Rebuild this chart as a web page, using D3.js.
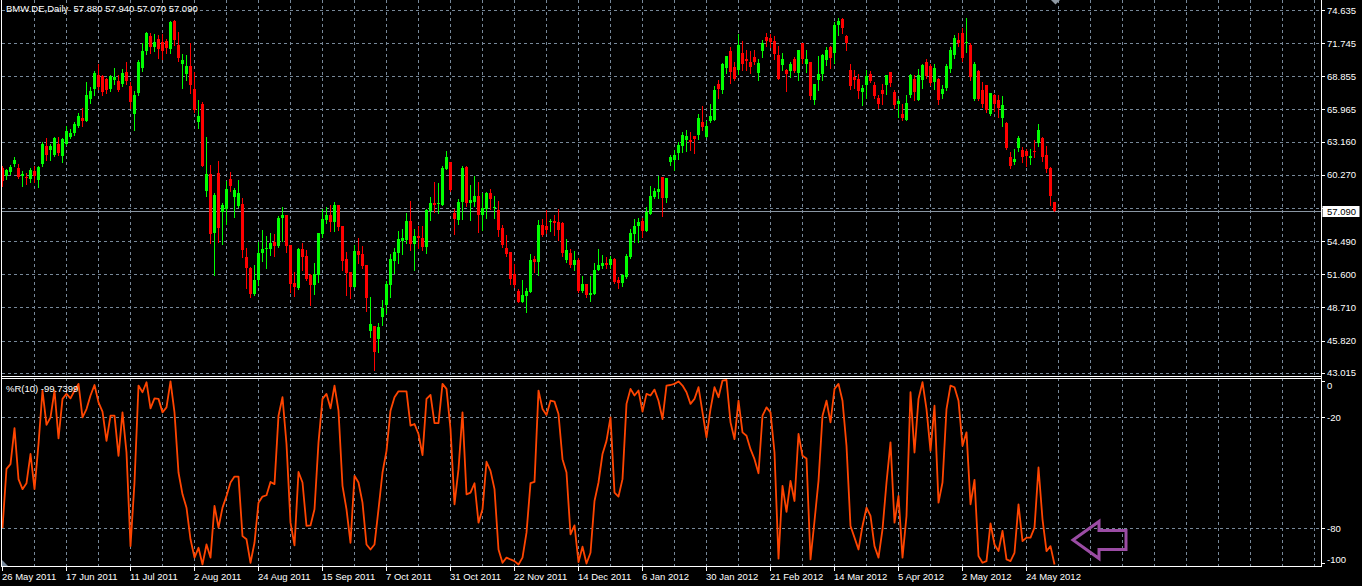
<!DOCTYPE html>
<html><head><meta charset="utf-8">
<script src="https://cdn.jsdelivr.net/npm/d3@7"></script>
<style>html,body{margin:0;padding:0;background:#000;overflow:hidden}</style>
</head><body>
<svg id="c" width="1362" height="586"></svg>
<script>
const symbolTitle = "BMW.DE,Daily";
const indicatorName = "%R(10)";
const dateLabels = ["26 May 2011","17 Jun 2011","11 Jul 2011","2 Aug 2011","24 Aug 2011","15 Sep 2011","7 Oct 2011","31 Oct 2011","22 Nov 2011","14 Dec 2011","6 Jan 2012","30 Jan 2012","21 Feb 2012","14 Mar 2012","5 Apr 2012","2 May 2012","24 May 2012"];
const dateLabelBars = [0,16,32,48,64,80,96,112,128,144,160,176,192,208,224,240,256];
const priceTicks = [74.635,71.745,68.855,65.965,63.160,60.270,57.380,54.490,51.600,48.710,45.820,43.015];
const wprLevels = [-20,-80];
const wprTickLabels = [0,-20,-80,-100];

const openP = [60.9,60.2,60.5,61.2,60.85,60.2,60.1,59.9,60.6,59.8,61.2,62.8,62.45,62.0,62.95,61.9,62.95,63.6,63.9,64.55,65.2,65.0,66.9,67.75,69.0,68.85,68.6,67.75,68.5,68.45,68.2,69.2,68.05,65.6,67.4,69.55,71.05,72.35,71.4,72.15,71.85,71.9,71.2,73.7,
71.57,69.9,69.03,69.73,67.78,64.83,66.46,58.87,60.33,55.23,60.42,57.0,57.27,59.9,58.35,57.56,57.7,53.09,52.16,49.88,51.14,53.41,53.8,53.76,54.44,54.06,56.51,56.8,54.15,50.85,50.41,53.76,53.18,51.52,50.64,51.52,55.14,56.3,56.8,56.19,57.65,55.81,52.89,51.81,
50.47,53.62,53.38,52.39,46.61,47.05,45.97,47.84,48.89,50.64,52.74,53.47,54.5,54.55,56.25,54.26,54.93,54.73,53.97,57.12,57.85,57.7,57.65,60.77,61.35,56.98,56.3,57.94,60.92,57.85,57.94,58.43,56.77,57.27,58.64,57.35,57.18,55.66,53.85,53.56,51.64,50.17,49.18,49.68,
50.06,52.89,52.69,55.9,55.81,56.19,56.25,56.16,56.1,52.8,53.47,52.39,52.8,50.12,50.76,49.76,49.88,52.01,52.3,52.6,52.39,52.89,51.14,50.85,51.34,53.09,55.14,55.81,56.25,55.37,56.89,58.29,58.81,60.04,58.23,61.35,61.56,62.15,62.81,63.33,63.31,63.69,63.77,64.86,
63.6,64.94,65.06,68.15,67.69,69.61,71.07,69.67,69.38,70.9,70.4,70.11,70.55,69.15,71.07,72.3,72.16,71.95,70.7,69.82,69.44,69.32,70.32,69.15,71.72,69.91,70.11,66.81,68.5,69.03,70.26,71.42,70.9,73.32,73.82,72.36,69.44,68.8,68.65,67.48,68.07,69.03,68.07,66.98,
67.69,68.07,69.24,67.48,66.46,65.53,65.06,67.19,68.65,66.81,68.5,70.11,69.73,68.36,68.65,67.28,67.86,69.53,70.7,72.01,72.59,71.78,71.57,66.9,69.32,67.69,68.07,65.59,67.19,66.81,65.24,64.77,61.79,61.35,62.61,62.43,62.38,61.73,62.32,63.02,63.48,62.02,60.86,57.88];
const highP = [61.0,60.8,61.15,61.8,61.2,60.6,60.4,60.9,61.05,61.0,63.1,63.45,62.95,63.6,63.6,63.45,64.55,64.25,64.9,65.65,66.1,68.4,67.95,69.3,69.95,69.0,68.7,69.0,69.55,69.0,69.5,70.1,68.35,67.6,70.3,71.75,72.7,72.6,72.5,72.45,72.55,72.1,73.7,73.8,
72.74,70.78,70.7,71.72,69.24,66.81,66.61,63.6,61.15,58.64,61.44,57.85,59.75,60.48,59.1,59.8,58.23,53.85,52.22,52.39,54.44,55.43,54.93,55.23,55.14,56.69,57.47,56.8,54.15,51.8,53.85,54.35,53.68,51.58,52.6,55.23,57.27,57.42,57.65,57.94,57.65,55.81,53.56,51.81,
54.15,54.73,54.06,52.39,49.59,47.05,47.34,49.38,50.99,53.38,53.85,55.37,55.52,56.98,57.99,55.52,55.81,55.81,57.27,58.35,59.6,59.54,61.0,62.38,61.41,57.27,58.14,61.06,61.06,59.4,60.19,59.6,58.64,58.81,59.02,58.43,57.99,55.9,55.02,53.56,52.45,50.3,51.14,50.41,
53.32,53.18,56.33,56.39,57.18,56.39,56.77,57.27,56.19,54.64,53.76,53.62,52.98,51.43,50.76,51.43,52.6,53.76,53.27,53.09,53.18,52.98,51.34,51.58,53.38,55.52,56.39,56.54,56.48,57.47,59.31,59.16,60.19,60.04,59.95,62.02,62.43,63.1,63.98,64.13,63.98,63.69,65.59,66.23,
64.94,66.4,67.98,68.5,70.03,70.61,71.37,70.11,72.53,71.95,71.13,71.07,71.19,70.4,72.01,72.65,72.53,72.36,71.48,70.9,69.53,70.11,70.55,71.19,71.78,71.19,70.11,68.21,70.61,70.84,71.37,71.48,73.61,73.9,73.9,72.45,69.96,69.38,69.09,68.07,69.38,69.32,68.36,67.19,
68.15,68.94,69.24,67.69,66.9,66.46,67.19,69.03,68.94,69.53,69.91,70.32,69.96,69.91,68.74,68.07,69.96,71.37,72.45,72.59,73.03,73.9,71.78,70.11,69.38,68.36,68.07,67.4,67.28,67.19,67.1,64.86,62.23,62.52,63.69,62.72,62.52,62.52,63.31,64.71,63.6,62.81,60.98,57.94];
const lowP = [59.3,59.9,60.35,61.05,59.95,59.25,59.5,59.6,59.6,59.2,61.05,61.6,61.6,61.9,62.0,61.35,62.85,63.45,63.75,64.4,64.55,64.95,66.5,67.25,67.75,67.2,67.4,67.55,68.2,67.6,68.05,68.2,66.05,64.15,67.25,69.3,70.8,70.9,71.1,70.45,70.35,70.85,70.85,71.6,
70.2,67.86,68.56,67.4,65.73,64.36,61.0,58.43,54.35,51.52,54.44,54.2,55.95,58.87,56.6,57.5,53.09,50.41,49.59,49.82,50.7,52.74,52.1,53.27,53.18,53.97,54.5,53.56,50.06,49.68,50.35,52.0,51.14,48.95,49.88,50.93,54.85,56.1,55.37,55.37,55.43,51.93,49.76,49.53,
50.47,52.6,52.16,48.42,46.17,43.25,44.86,47.14,48.22,49.59,51.72,52.6,53.38,54.35,53.68,51.93,53.91,53.68,53.47,56.3,57.06,56.98,57.65,60.77,58.87,55.14,56.01,56.39,57.56,56.3,57.56,55.3,55.43,56.54,57.27,56.48,54.93,53.97,53.18,50.76,50.47,49.18,49.18,48.31,
50.06,51.81,51.52,54.93,55.23,55.37,54.99,54.55,53.18,52.69,52.22,51.93,50.06,50.06,49.59,49.3,49.88,51.93,52.16,52.16,52.16,50.85,50.41,50.55,51.23,52.98,54.44,54.44,54.85,55.37,56.89,58.23,58.23,56.68,57.94,61.15,60.68,61.65,62.23,62.38,62.43,62.15,63.4,64.13,
63.6,64.86,65.06,66.98,67.4,69.15,68.27,68.56,69.03,69.44,69.44,69.15,69.91,68.56,70.55,71.48,71.42,70.32,68.65,69.44,67.57,68.8,69.24,68.56,70.02,69.24,66.9,66.46,67.69,68.56,69.82,69.61,70.02,72.45,72.59,71.19,67.78,67.86,66.98,66.31,66.98,68.36,66.98,66.11,
66.4,67.28,67.98,66.11,65.3,65.06,65.06,67.04,66.81,66.81,67.86,68.74,68.07,67.78,66.4,66.98,67.69,69.24,70.49,71.48,70.2,70.99,68.56,66.75,66.75,66.17,65.73,65.44,65.82,65.35,64.48,62.52,60.86,61.2,62.32,61.35,61.06,61.2,61.85,62.81,61.5,60.48,57.65,57.07];
const closeP = [59.75,60.7,60.95,61.6,60.1,60.3,59.95,60.65,60.2,60.95,62.95,62.0,62.75,63.45,62.15,63.4,64.1,63.9,64.7,65.4,65.0,67.2,67.6,69.15,67.9,67.5,67.65,68.85,68.8,67.65,69.1,68.45,66.6,67.2,70.1,71.05,72.65,71.4,71.85,71.2,71.05,71.3,73.6,72.0,
70.49,70.26,69.73,68.07,65.88,65.36,61.06,60.33,55.14,58.52,55.6,57.65,59.02,59.3,58.96,58.67,53.68,52.1,49.88,51.14,53.41,53.76,53.9,54.35,54.06,56.54,56.8,54.06,50.76,50.47,53.76,53.09,51.2,50.64,51.64,55.23,56.39,56.8,56.19,57.65,55.72,52.74,51.72,50.47,
53.62,53.27,52.3,49.53,47.26,44.86,46.96,48.66,50.76,52.89,53.56,54.64,54.73,56.25,54.26,54.93,54.73,53.97,57.18,57.85,57.65,57.77,60.83,61.85,58.93,56.39,57.94,60.83,57.85,58.05,58.43,56.77,57.41,58.64,58.14,57.47,55.43,54.15,53.38,51.2,50.7,49.18,49.82,50.12,
52.8,52.69,55.9,55.02,55.43,56.25,56.1,55.43,53.47,53.68,52.39,52.8,50.12,50.76,49.76,49.94,52.01,52.39,52.6,52.39,52.89,50.93,50.85,51.52,53.18,55.23,55.81,56.19,55.37,57.06,58.43,58.87,59.02,58.23,59.95,61.85,62.02,62.9,63.77,63.69,63.1,63.4,65.24,64.42,
64.48,65.36,67.69,67.78,69.91,70.61,69.24,68.65,71.57,69.91,70.2,69.67,70.11,70.02,71.78,71.95,71.86,70.84,68.65,70.32,69.03,69.91,69.32,71.13,70.4,70.4,67.1,68.15,69.09,70.7,71.13,70.49,73.32,73.7,73.03,71.78,67.98,68.5,67.57,67.86,68.86,68.45,67.1,66.4,
67.28,68.94,68.27,66.31,66.69,65.24,66.52,68.94,67.48,68.94,69.82,68.86,68.27,69.61,66.81,67.78,69.73,71.19,72.16,71.78,70.49,71.86,68.8,69.91,66.9,66.4,65.88,67.4,66.4,66.11,66.31,62.61,61.06,61.64,63.48,61.85,61.94,61.94,62.23,64.19,61.85,60.77,58.43,57.09];
const wpr = [-80,-48,-45.5,-26,-53.6,-59,-55.8,-40,-59,-34.6,
-5.7,-24.3,-20.2,-5.7,-31.6,-10.2,-7.5,-9.9,-5.7,-2.1,
-20.2,-15.7,-8.4,-2.7,-12.1,-17.1,-32.9,-19.3,-19.3,-41,
-17.5,-39.2,-89.8,-55.4,-3,-6.6,-1.2,-15.3,-9.9,-10.2,
-17.5,-14.8,-0.8,-17.5,-50,-61.8,-69,-86.1,-96,-90.7,
-99.7,-88.9,-96,-68,-79.8,-69,-62.7,-55.4,-52.2,-52.2,
-84.4,-86.1,-98.8,-88,-66.3,-63,-62.3,-55.1,-56.3,-19.3,
-9.3,-34.6,-77.1,-89.4,-49.7,-55.4,-78.9,-78.6,-69.9,-33.7,
-10.2,-7.5,-15.3,-3,-16.6,-57.2,-69.9,-88,
-51.8,-55.4,-66.3,-88.9,-91.6,-88.9,-69.9,-50,-38.3,-16.6,
-9.3,-6.1,-6.1,-6.1,-24.7,-23.8,-29.2,-40.6,-10.2,-8.1,
-23.3,-23.3,-2.1,-4.8,-26.5,-67.2,-48.2,-17.5,-61.8,-60.9,
-55.8,-77.1,-69.9,-44.2,-49.1,-59,-91.6,-98.8,-96,-97,
-97.9,-99.7,-96,-82.5,-55.8,-55.1,-5.7,-15.7,-18.9,-11.2,
-11.7,-18.4,-42.8,-50,-83.4,-78.6,-98.4,-90.1,-99.2,-93.4,
-65.4,-55.4,-40,-32.9,-20.2,-60.9,-63,-53.6,-12.9,-4.8,
-8.4,-5.7,-17.1,-7.5,-8.4,-5.2,-11.2,-21.1,-3,-2.7,
-2.1,-0.8,-3,-6.6,-12.9,-10.2,-3.9,-17.5,
-31,-15.7,-3.9,-9.3,-0.3,0,-22.9,-32,-11.2,-28.3,
-30.1,-37.4,-42.8,-50.4,-19.3,-14.8,-17.5,-39.2,-96.6,-57.2,
-71.3,-54.5,-65.4,-29.2,-41,-42.4,-97,-76.2,-54.5,-19.3,
-11.2,-22.9,-4.8,-2.1,-11.2,-35.6,-78.9,-85.2,-91.6,-78.9,
-69,-73.5,-89.8,-96,-80.7,-55.4,-33.7,-77.1,-62.7,-96,
-73.5,-6.6,-39.2,-10.2,-1.2,-15.7,-38.3,-13.9,-66.3,-55.4,
-15.7,-3,-3.9,-11.2,-35.6,-28.3,-67.2,-54,-95.2,-98.8,
-97.9,-77.5,-88.9,-92.5,-81.6,-97,-97.9,-93.4,-67.2,-87.1,
-85.2,-85.2,-79.8,-47.3,-75.3,-92.5,-89.8,-99.7399];

const W = 1362, H = 586;
const font = "'Liberation Sans', Arial, sans-serif";
const gridColor = "#778899";
const svg = d3.select("#c");
svg.append("rect").attr("width", W).attr("height", H).attr("fill", "#000");

const n = closeP.length;
const x = d3.scaleLinear().domain([0, 1]).range([2.5, 6.5]);
const y = d3.scaleLinear().domain([43.015, 74.635]).range([372.7, 10]);
const yw = d3.scaleLinear().domain([-100, 0]).range([565, 380]);
const crisp = v => Math.round(v) + 0.5;

const grid = svg.append("g").attr("shape-rendering", "crispEdges")
  .attr("stroke", gridColor).attr("stroke-dasharray", "3,3");
grid.selectAll("line.v").data(d3.range(8, 330, 8)).join("line")
  .attr("x1", d => x(d)).attr("x2", d => x(d)).attr("y1", 0).attr("y2", 566);
grid.selectAll("line.h").data(priceTicks).join("line")
  .attr("x1", 2).attr("x2", 1321).attr("y1", d => crisp(y(d))).attr("y2", d => crisp(y(d)));
grid.selectAll("line.w").data(wprLevels).join("line")
  .attr("x1", 2).attr("x2", 1321).attr("y1", d => crisp(yw(d))).attr("y2", d => crisp(yw(d)));

const lastClose = closeP[n - 1];
svg.append("line").attr("shape-rendering", "crispEdges")
  .attr("x1", 2).attr("x2", 1321).attr("y1", crisp(y(lastClose))).attr("y2", crisp(y(lastClose)))
  .attr("stroke", "#8a96a3");

const bars = d3.range(n);
const cg = svg.append("g").attr("shape-rendering", "crispEdges");
const colorOf = i => closeP[i] >= openP[i] ? "#00ff00" : "#ff0000";
cg.selectAll("line.wick").data(bars).join("line")
  .attr("x1", i => x(i)).attr("x2", i => x(i))
  .attr("y1", i => Math.round(y(highP[i]))).attr("y2", i => Math.round(y(lowP[i])) + 1)
  .attr("stroke", colorOf);
cg.selectAll("rect.body").data(bars).join("rect")
  .attr("x", i => x(i) - 1.5).attr("width", 3)
  .attr("y", i => Math.round(y(Math.max(openP[i], closeP[i]))))
  .attr("height", i => Math.max(1, Math.round(y(Math.min(openP[i], closeP[i]))) - Math.round(y(Math.max(openP[i], closeP[i])))))
  .attr("fill", colorOf);

svg.append("path").datum(wpr)
  .attr("d", d3.line().x((d, i) => x(i)).y(d => yw(d)))
  .attr("fill", "none").attr("stroke", "#ff4500").attr("stroke-width", 1.8)
  .attr("stroke-linejoin", "round");

const fr = svg.append("g").attr("shape-rendering", "crispEdges").attr("stroke", "#fff");
fr.append("line").attr("x1", 1.5).attr("x2", 1.5).attr("y1", 0).attr("y2", 567);
fr.append("line").attr("x1", 1321.5).attr("x2", 1321.5).attr("y1", 0).attr("y2", 567);
[376.5, 378.5, 566.5].forEach(v => fr.append("line").attr("x1", 1.5).attr("x2", 1321.5).attr("y1", v).attr("y2", v));

// right price axis (labels hidden under the current-price box are not drawn)
const py = y(lastClose);
const visibleTicks = priceTicks.filter(t => Math.abs(y(t) - py) > 8);
const ax = svg.append("g");
ax.selectAll("line").data(priceTicks).join("line").attr("shape-rendering", "crispEdges")
  .attr("x1", 1321.5).attr("x2", 1325).attr("y1", d => crisp(y(d))).attr("y2", d => crisp(y(d))).attr("stroke", "#fff");
ax.selectAll("text").data(visibleTicks).join("text")
  .attr("x", 1327).attr("y", d => y(d) + 3.5)
  .attr("font-family", font).attr("font-size", "9.5px").attr("fill", "#fff")
  .text(d => d.toFixed(3));
svg.append("rect").attr("x", 1322.5).attr("y", Math.round(py) - 5).attr("width", 37).attr("height", 11).attr("fill", "#fff");
svg.append("text").attr("x", 1327).attr("y", Math.round(py) + 4)
  .attr("font-family", font).attr("font-size", "9.5px").attr("fill", "#000").text(lastClose.toFixed(3));

const wa = svg.append("g");
wa.selectAll("line").data(wprTickLabels).join("line").attr("shape-rendering", "crispEdges")
  .attr("x1", 1321.5).attr("x2", 1325).attr("y1", d => crisp(Math.min(Math.max(yw(d), 381), 563))).attr("y2", d => crisp(Math.min(Math.max(yw(d), 381), 563))).attr("stroke", "#fff");
wa.selectAll("text").data(wprTickLabels).join("text")
  .attr("x", 1327).attr("y", d => Math.min(Math.max(yw(d), 385), 559) + 3.5)
  .attr("font-family", font).attr("font-size", "9.5px").attr("fill", "#fff")
  .text(d => d);

const da = svg.append("g");
da.selectAll("line").data(dateLabelBars).join("line").attr("shape-rendering", "crispEdges")
  .attr("x1", d => x(d)).attr("x2", d => x(d)).attr("y1", 567).attr("y2", 571).attr("stroke", "#fff");
da.selectAll("text").data(dateLabels).join("text")
  .attr("x", (d, i) => x(dateLabelBars[i]) - 0.5).attr("y", 579.5)
  .attr("font-family", font).attr("font-size", "9.5px").attr("fill", "#fff")
  .text(d => d);

svg.append("text").attr("x", 6).attr("y", 11.5).attr("font-family", font).attr("font-size", "9.5px").attr("fill", "#fff")
  .attr("xml:space", "preserve")
  .text(symbolTitle + "  " + [openP[n-1], highP[n-1], lowP[n-1], closeP[n-1]].map(v => v.toFixed(3)).join(" "));
svg.append("text").attr("x", 6).attr("y", 392).attr("font-family", font).attr("font-size", "9.5px").attr("fill", "#fff")
  .text(indicatorName + " " + wpr[n-1].toFixed(4));

svg.append("polygon").attr("points", "1051,0 1060,0 1055.5,4.5").attr("fill", "#8f99a3");
svg.append("polygon").attr("points", "2,560 2,566 8,566").attr("fill", gridColor);

svg.append("polygon")
  .attr("points", "1073,540 1099,521.5 1099,530.5 1126,530.5 1126,549.5 1099,549.5 1099,558.5")
  .attr("fill", "none").attr("stroke", "#9b4ca4").attr("stroke-width", 3).attr("stroke-linejoin", "miter");
</script>
</body></html>
